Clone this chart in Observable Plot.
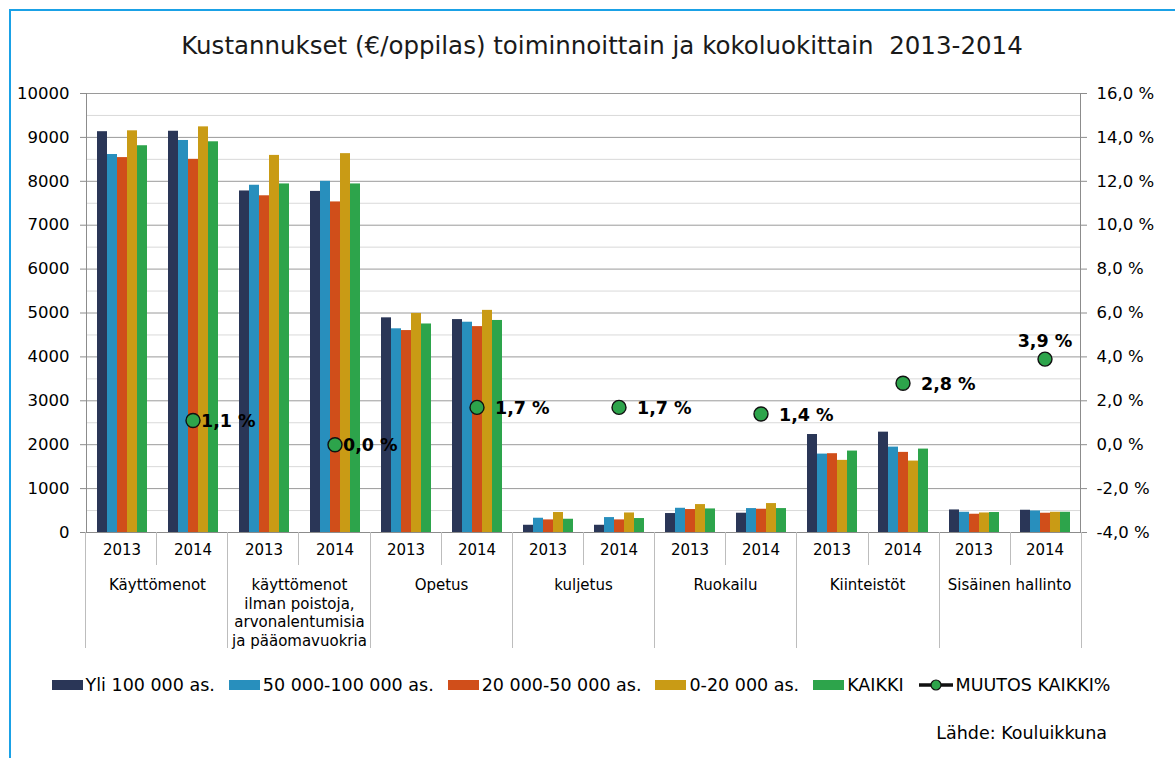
<!DOCTYPE html>
<html><head><meta charset="utf-8">
<script src="https://cdn.jsdelivr.net/npm/d3@7"></script>
<script src="https://cdn.jsdelivr.net/npm/@observablehq/plot@0.6"></script>
<style>
html,body{margin:0;padding:0;background:#fff;overflow:hidden;width:1175px;height:758px;}
body{font-family:"DejaVu Sans",Verdana,sans-serif;color:#000;position:relative;}
#frame{position:absolute;left:9px;top:9px;width:1300px;height:900px;border-left:2px solid #1aa1e6;border-top:2px solid #1aa1e6;box-sizing:border-box;}
#title{position:absolute;left:0;top:31px;width:1204px;text-align:center;font-size:24.5px;color:#1a1a1a;white-space:pre;}
#chart{position:absolute;left:0;top:80px;}
#legend{position:absolute;left:0;top:675px;width:1162px;display:flex;justify-content:center;align-items:center;font-size:17.5px;white-space:pre;}
#legend .item{display:flex;align-items:center;margin-right:14px;}
#legend .item:last-child{margin-right:0;}
#legend .sw{display:inline-block;width:31px;height:10px;margin-right:3px;}
#source{position:absolute;right:68px;top:723px;font-size:17.5px;}
</style></head>
<body>
<div id="frame"></div>
<div id="title"></div>
<div id="chart"></div>
<div id="legend"></div>
<div id="source"></div>
<script>
// ---- data ----
const titleText = "Kustannukset (€/oppilas) toiminnoittain ja kokoluokittain  2013-2014";
const sourceText = "Lähde: Kouluikkuna";
const categories = [
  "Käyttömenot",
  "käyttömenot\nilman poistoja,\narvonalentumisia\nja pääomavuokria",
  "Opetus",
  "kuljetus",
  "Ruokailu",
  "Kiinteistöt",
  "Sisäinen hallinto"
];
const years = ["2013", "2014"];
const seriesNames = ["Yli 100 000 as.", "50 000-100 000 as.", "20 000-50 000 as.", "0-20 000 as.", "KAIKKI"];
const seriesColors = ["#2a3657", "#288fbd", "#d04e1a", "#c99b15", "#2da44b"];
// values: category x year (2013, 2014)
const yli100   = [9130, 9140, 7780, 7770, 4890, 4850, 165, 165, 432, 439, 2232, 2286, 514, 507];
const s50_100  = [8610, 8930, 7910, 8000, 4640, 4790, 325, 340, 552, 545, 1786, 1945, 461, 491];
const s20_50   = [8540, 8500, 7670, 7530, 4600, 4690, 287, 287, 523, 530, 1795, 1825, 416, 439];
const s0_20    = [9150, 9240, 8590, 8630, 4990, 5060, 455, 445, 636, 659, 1643, 1627, 445, 461];
const kaikki   = [8810, 8900, 7940, 7940, 4750, 4830, 302, 318, 537, 545, 1855, 1900, 455, 461];
const muutosName = "MUUTOS KAIKKI%";
const muutos = [1.1, 0.0, 1.7, 1.7, 1.4, 2.8, 3.9]; // percent, 2013->2014
const leftTicks = [0, 1000, 2000, 3000, 4000, 5000, 6000, 7000, 8000, 9000, 10000];
const rightTicks = [-4, -2, 0, 2, 4, 6, 8, 10, 12, 14, 16];

// ---- build ----
const seriesValues = [yli100, s50_100, s20_50, s0_20, kaikki];
const key = (c, y) => c + "|" + y;
const keys = categories.flatMap(c => years.map(y => key(c, y)));
const rows = [];
seriesNames.forEach((s, si) => {
  keys.forEach((k, ki) => rows.push({key: k, series: s, value: seriesValues[si][ki]}));
});
// right axis (percent) mapped onto left axis domain: -4% -> 0, 16% -> 10000
const pctToLeft = p => (p - rightTicks[0]) / (rightTicks[rightTicks.length - 1] - rightTicks[0]) * 10000;
const changes = categories.map((c, i) => ({key: key(c, "2014"), v: muutos[i], i}));
const fmtPct = v => v.toFixed(1).replace(".", ",") + " %";
const n = changes.length;

document.getElementById("title").textContent = titleText;
document.getElementById("source").textContent = sourceText;

const labelStyle = {fx: "key", y: d => pctToLeft(d.v), text: d => fmtPct(d.v), fontWeight: "bold", fontSize: 17.5};

const chart = Plot.plot({
  width: 1175,
  height: 580,
  marginLeft: 85,
  marginRight: 94,
  marginTop: 13,
  marginBottom: 128,
  style: {fontFamily: "DejaVu Sans, Verdana, sans-serif", fontSize: "16px", color: "#000", background: "transparent"},
  fx: {domain: keys, padding: 0, axis: null, label: null},
  x: {domain: seriesNames, paddingInner: 0.04, paddingOuter: 0.75, axis: null, label: null},
  y: {domain: [0, 10000], axis: null, label: null},
  color: {domain: seriesNames, range: seriesColors},
  marks: [
    Plot.gridY({ticks: leftTicks.slice(1).map(t => t - 500), stroke: "#d9d9d9", strokeOpacity: 1}),
    Plot.gridY({ticks: leftTicks, stroke: "#9a9a9a", strokeOpacity: 1}),
    Plot.barY(rows, {fx: "key", x: "series", y: "value", fill: "series"}),
    Plot.ruleY([0], {stroke: "#8c8c8c"}),
    Plot.frame({anchor: "left", facetAnchor: "left", stroke: "#8c8c8c"}),
    Plot.frame({anchor: "right", facetAnchor: "right", stroke: "#8c8c8c"}),
    Plot.axisY({anchor: "left", label: null, ticks: leftTicks, tickFormat: d => String(d), tickSize: 6, tickPadding: 11, stroke: "#8c8c8c", fontSize: 16.5}),
    Plot.axisY({anchor: "right", label: null, ticks: rightTicks.map(pctToLeft), tickFormat: d => fmtPct(rightTicks[leftTicks.indexOf(d)]), tickSize: 6, tickPadding: 10, stroke: "#8c8c8c", fontSize: 16.5}),
    Plot.axisFx({anchor: "bottom", label: null, tickFormat: d => d.split("|")[1], tickSize: 0, tickPadding: 12, fontSize: 15}),
    Plot.text(categories, {fx: c => key(c, "2013"), text: d => d, frameAnchor: "bottom-right", textAnchor: "middle", lineAnchor: "top", dy: 44, fontSize: 15, lineHeight: 1.25}),
    Plot.dot(changes, {fx: "key", y: d => pctToLeft(d.v), r: 7, fill: "#2da44b", stroke: "#111", strokeWidth: 1.4}),
    // label placement as in the original: close right, further right, above for the last
    Plot.text(changes, {...labelStyle, filter: d => d.i < 2, textAnchor: "start", dx: 8, dy: 1}),
    Plot.text(changes, {...labelStyle, filter: d => d.i >= 2 && d.i < n - 1, textAnchor: "start", dx: 18, dy: 1}),
    Plot.text(changes, {...labelStyle, filter: d => d.i === n - 1, textAnchor: "middle", dy: -18})
  ]
});
document.getElementById("chart").appendChild(chart);

// separators in the category axis, placed from Plot's own fx / y scales
const fxs = chart.scale("fx");
const fxBand = d3.scaleBand(fxs.domain, fxs.range).paddingInner(fxs.paddingInner || 0).paddingOuter(fxs.paddingOuter || 0).align(fxs.align ?? 0.5);
const y0 = chart.scale("y").apply(0);
const svg = d3.select(chart.tagName.toLowerCase() === "svg" ? chart : chart.querySelector("svg"));
const sep = svg.append("g").attr("stroke", "#bdbdbd").attr("stroke-width", 1);
keys.forEach(k => {
  const x = Math.round(fxBand(k)) + 0.5;
  const long = k.endsWith("|2013");
  sep.append("line").attr("x1", x).attr("x2", x).attr("y1", y0).attr("y2", y0 + (long ? 116 : 33));
});
{
  const xr = Math.round(fxs.range[1]) + 0.5;
  sep.append("line").attr("x1", xr).attr("x2", xr).attr("y1", y0).attr("y2", y0 + 116);
}

// legend
const legend = document.getElementById("legend");
seriesNames.forEach((s, i) => {
  const it = document.createElement("span");
  it.className = "item";
  it.innerHTML = `<span class="sw" style="background:${seriesColors[i]}"></span><span></span>`;
  it.lastChild.textContent = s;
  legend.appendChild(it);
});
{
  const it = document.createElement("span");
  it.className = "item";
  it.innerHTML = `<svg width="36" height="14" style="margin-right:2px"><line x1="1" x2="35" y1="7" y2="7" stroke="#111" stroke-width="3.5"/><circle cx="18" cy="7" r="5" fill="#2da44b" stroke="#111" stroke-width="1.2"/></svg><span></span>`;
  it.lastChild.textContent = muutosName;
  legend.appendChild(it);
}
</script>
</body></html>
